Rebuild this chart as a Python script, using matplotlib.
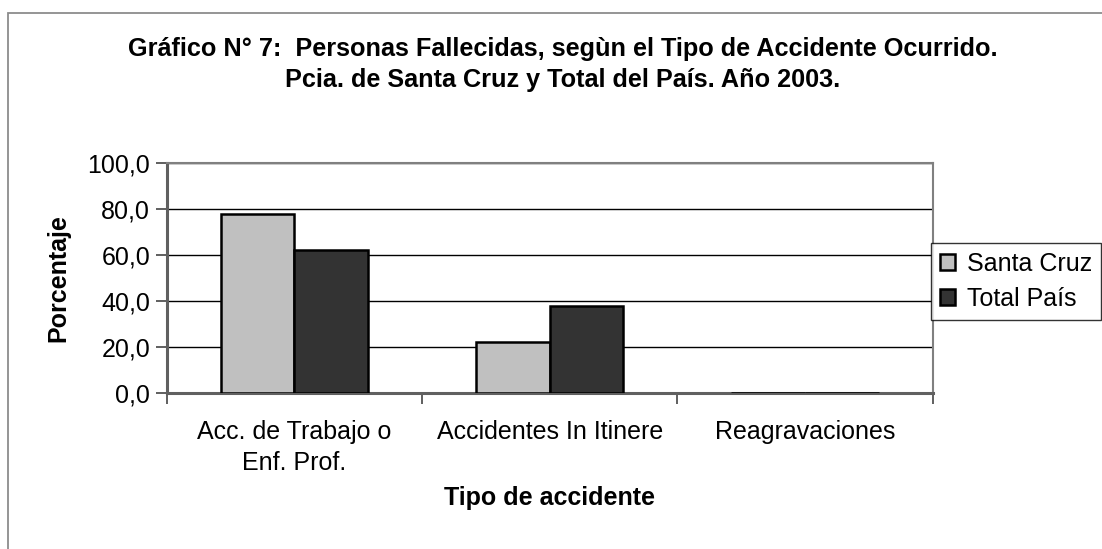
import matplotlib
matplotlib.use("Agg")
import matplotlib.pyplot as plt
import numpy as np
from matplotlib.patches import Rectangle

plt.rcParams['font.family'] = ['Liberation Sans', 'DejaVu Sans']

categories = ["Acc. de Trabajo o\nEnf. Prof.", "Accidentes In Itinere", "Reagravaciones"]
series_names = ["Santa Cruz", "Total País"]
santa_cruz = [77.9, 22.1, 0.0]
total_pais = [62.1, 37.9, 0.3]
yticks = [0, 20, 40, 60, 80, 100]
ytick_labels = ["0,0", "20,0", "40,0", "60,0", "80,0", "100,0"]
title_lines = ["Gráfico N° 7:  Personas Fallecidas, segùn el Tipo de Accidente Ocurrido.",
               "Pcia. de Santa Cruz y Total del País. Año 2003."]
colors = ["#C0C0C0", "#333333"]

FS = 18

fig = plt.figure(figsize=(11.02, 5.49), dpi=100)
ax = fig.add_axes([166.7/1102, 1-393.3/549, (932.6-166.7)/1102, (393.3-163)/549])

x = np.arange(len(categories))
w = 0.289
ax.bar(x - w/2, santa_cruz, w, color=colors[0], edgecolor='black', linewidth=1.8, label=series_names[0], zorder=5)
ax.bar(x + w/2, total_pais, w, color=colors[1], edgecolor='black', linewidth=1.8, label=series_names[1], zorder=5)

ax.set_xlim(-0.5, 2.5)
ax.set_ylim(0, 100)
ax.set_yticks(yticks)
ax.set_yticklabels(ytick_labels, fontsize=FS)
ax.set_xticks(x)
ax.set_xticklabels(categories, fontsize=FS, linespacing=1.38)
ax.tick_params(axis='x', which='major', length=0, pad=19)
ax.set_xticks([-0.5, 0.5, 1.5, 2.5], minor=True)
ax.tick_params(axis='x', which='minor', length=8, width=1.2, color='#444444', direction='out')
ax.tick_params(axis='y', length=8, width=1.2, color='#444444', direction='out', pad=4)

ax.grid(axis='y', color='black', linewidth=1.0, zorder=0)
ax.set_axisbelow(True)
for s in ['top', 'right']:
    ax.spines[s].set_color('#808080')
    ax.spines[s].set_linewidth(1.5)
for s in ['left', 'bottom']:
    ax.spines[s].set_color('#606060')
    ax.spines[s].set_linewidth(2.2)
ax.spines['bottom'].set_zorder(4)

ax.set_ylabel("Porcentaje", fontsize=FS, fontweight='bold', labelpad=12)
ax.set_xlabel("Tipo de accidente", fontsize=FS, fontweight='bold', labelpad=8)

fig.text(563/1102, 1-49/549, title_lines[0], ha='center', va='center', fontsize=18.2, fontweight='bold')
fig.text(563/1102, 1-80.5/549, title_lines[1], ha='center', va='center', fontsize=18.2, fontweight='bold')

# outer chart frame
fig.patches.append(Rectangle((8/1102, -0.05), 1.2, 1-12.5/549+0.05, transform=fig.transFigure,
                             fill=False, edgecolor='#8c8c8c', linewidth=1.3))

leg = fig.legend(loc='upper left', bbox_to_anchor=(931/1102, 1-243/549), fontsize=FS,
                 frameon=True, fancybox=False, edgecolor='black', handlelength=0.6, handleheight=0.6,
                 handletextpad=0.5, borderpad=0.35, labelspacing=0.45, borderaxespad=0)
leg.get_frame().set_linewidth(1.0)

fig.savefig("out.png", dpi=100)
